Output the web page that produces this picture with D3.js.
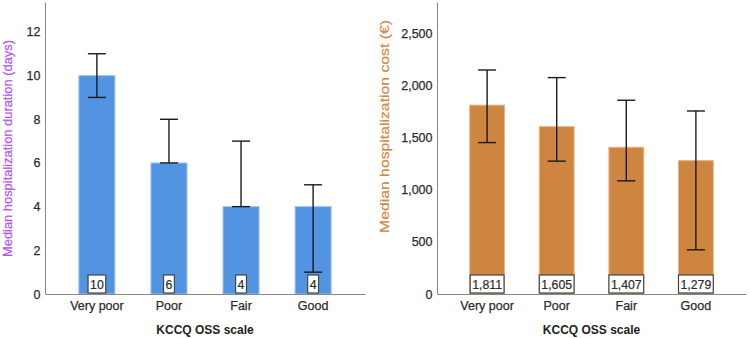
<!DOCTYPE html>
<html><head><meta charset="utf-8">
<script src="https://cdn.jsdelivr.net/npm/d3@7"></script>
<style>
html,body{margin:0;padding:0;background:#fff;}
text{font-family:Arial,"Liberation Sans",sans-serif;}
</style></head>
<body><svg id="c" width="750" height="338"></svg>
<script>
const categories = ["Very poor", "Poor", "Fair", "Good"];
const durationValues = [10, 6, 4, 4];
const durationLow = [9, 6, 4, 1];
const durationHigh = [11, 8, 7, 5];
const durationTicks = [0, 2, 4, 6, 8, 10, 12];
const costValues = [1811, 1605, 1407, 1279];
const costLow = [1452, 1274, 1085, 424];
const costHigh = [2148, 2075, 1858, 1755];
const costTicks = [0, 500, 1000, 1500, 2000, 2500];

const svg = d3.select("#c");
const fmt = d3.format(",");
const FONT = "Arial, 'Liberation Sans', sans-serif";

function panel(cfg) {
  const g = svg.append("g");
  const x = d3.scaleBand().domain(categories).range([cfg.x0, cfg.x1])
    .paddingInner(0.5).paddingOuter(0.47);
  const y = d3.scaleLinear().domain([0, cfg.max]).range([294, 2]);

  // bars
  g.selectAll("rect.bar").data(cfg.values).enter().append("rect")
    .attr("x", (d, i) => x(categories[i]))
    .attr("y", d => y(d))
    .attr("width", x.bandwidth())
    .attr("height", d => y(0) - y(d))
    .attr("fill", cfg.color)
    .attr("stroke", cfg.edge).attr("stroke-width", 1);

  // error bars
  const cx = i => x(categories[i]) + x.bandwidth() / 2;
  const eb = g.append("g").attr("stroke", "#1a1a1a").attr("stroke-width", 1.4);
  cfg.values.forEach((v, i) => {
    eb.append("line").attr("x1", cx(i)).attr("x2", cx(i))
      .attr("y1", y(cfg.low[i])).attr("y2", y(cfg.high[i]));
    [cfg.low[i], cfg.high[i]].forEach(e => {
      eb.append("line").attr("x1", cx(i) - 9).attr("x2", cx(i) + 9)
        .attr("y1", y(e)).attr("y2", y(e));
    });
  });

  // axes
  const yAxis = d3.axisLeft(y).tickValues(cfg.ticks).tickSize(0).tickPadding(4.5)
    .tickFormat(fmt);
  const ya = g.append("g").attr("transform", `translate(${cfg.x0},0)`).call(yAxis);
  ya.select(".domain").attr("stroke", "#888");
  ya.selectAll("text").attr("font-size", 12.5).attr("fill", "#2b2b2b")
    .attr("stroke", "#2b2b2b").attr("stroke-width", 0.25)
    .attr("font-family", FONT);

  const xAxis = d3.axisBottom(x).tickSize(0).tickPadding(7);
  const xa = g.append("g").attr("transform", `translate(0,${y(0)})`).call(xAxis);
  xa.select(".domain").attr("stroke", "#888");
  xa.selectAll("text").attr("font-size", 12.5).attr("fill", "#2b2b2b")
    .attr("stroke", "#2b2b2b").attr("stroke-width", 0.25)
    .attr("font-family", FONT);

  // value labels
  cfg.values.forEach((v, i) => {
    const t = g.append("text").attr("x", cx(i)).attr("y", 289)
      .attr("text-anchor", "middle").attr("font-size", 12.3).attr("fill", "#2b2b2b")
      .attr("stroke", "#2b2b2b").attr("stroke-width", 0.2)
      .text(fmt(v));
    const w = t.node().getComputedTextLength();
    g.insert("rect", function () { return t.node(); })
      .attr("x", cx(i) - w / 2 - 2).attr("y", 275)
      .attr("width", w + 4).attr("height", 18)
      .attr("fill", "#fff").attr("stroke", "#444").attr("stroke-width", 1.2);
  });

  // titles
  g.append("text").attr("x", (cfg.x0 + cfg.x1) / 2).attr("y", 334)
    .attr("text-anchor", "middle").attr("font-size", 12).attr("font-weight", "bold")
    .attr("fill", "#222").text("KCCQ OSS scale");
  g.append("text")
    .attr("transform", `translate(${cfg.tx},${cfg.ty}) rotate(-90)`)
    .attr("text-anchor", "middle").attr("font-size", 12.6)
    .attr("textLength", cfg.tlen).attr("lengthAdjust", "spacingAndGlyphs")
    .attr("fill", cfg.titleColor).attr("stroke", cfg.titleColor).attr("stroke-width", 0.2)
    .text(cfg.title);
}

panel({x0: 45, x1: 365, max: 13.37, values: durationValues, low: durationLow,
  high: durationHigh, ticks: durationTicks, color: "#5294E2", edge: "#9cc2f0",
  title: "Median hospitalization duration (days)", titleColor: "#B552F0", tx: 11.5, ty: 148.5, tlen: 217});
panel({x0: 437, x1: 746, max: 2800, values: costValues, low: costLow,
  high: costHigh, ticks: costTicks, color: "#CD853F", edge: "#e3b587",
  title: "Median hospitalization cost (€)", titleColor: "#D0894A", tx: 388.5, ty: 126.5, tlen: 213});
</script></body></html>
